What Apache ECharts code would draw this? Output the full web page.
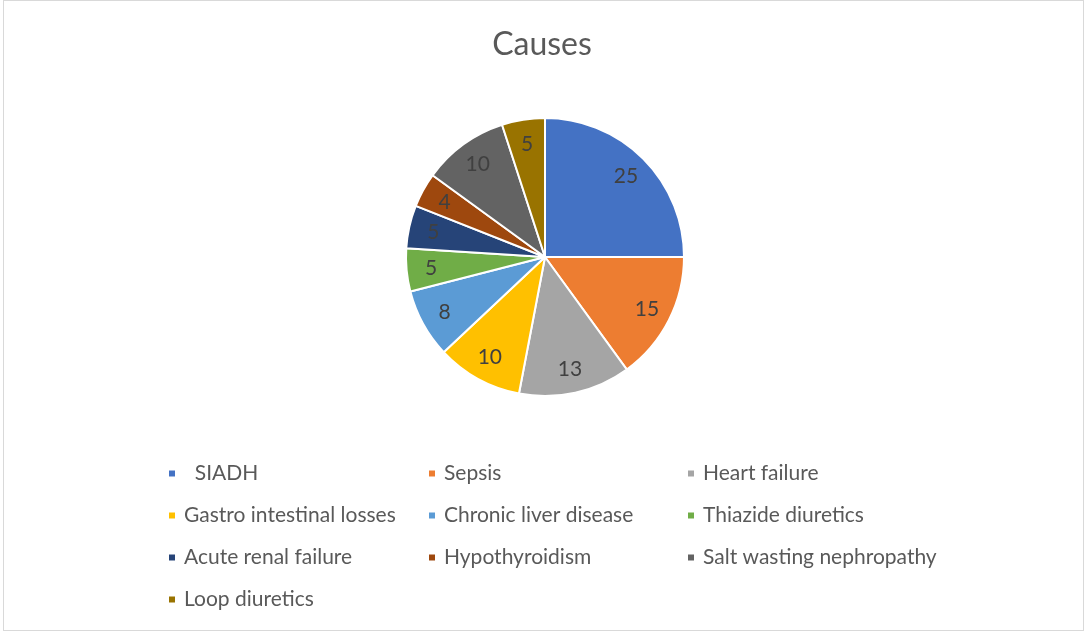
<!DOCTYPE html>
<html>
<head>
<meta charset="utf-8">
<script src="https://cdn.jsdelivr.net/npm/echarts@6/dist/echarts.min.js"></script>
<style>
  html, body { margin: 0; padding: 0; background: #fff; }
  #box { position: absolute; left: 3px; top: 0; width: 1079px; height: 629px; border: 1px solid #d9d9d9; }
  #chart { width: 1084px; height: 632px; }
</style>
</head>
<body>
<div id="box"></div>
<div id="chart"></div>
<script>
// 数据
var causes = ['  SIADH', 'Sepsis', 'Heart failure', 'Gastro intestinal losses', 'Chronic liver disease',
  'Thiazide diuretics', 'Acute renal failure', 'Hypothyroidism', 'Salt wasting nephropathy', 'Loop diuretics'];
var counts = [25, 15, 13, 10, 8, 5, 5, 4, 10, 5];
var colors = ['#4472C4', '#ED7D31', '#A5A5A5', '#FFC000', '#5B9BD5', '#70AD47', '#264478', '#9E480E', '#636363', '#997300'];

// 图例分三列
var col1 = [causes[0], causes[3], causes[6], causes[9]];
var col2 = [causes[1], causes[4], causes[7]];
var col3 = [causes[2], causes[5], causes[8]];

var pieData = causes.map(function (n, i) { return { name: n, value: counts[i] }; });

function legendCol(names, x) {
  return {
    orient: 'vertical',
    left: x,
    top: 463,
    padding: 0,
    itemWidth: 8,
    itemHeight: 8,
    itemGap: 21,
    icon: 'rect',
    data: names,
    textStyle: { fontFamily: 'Lato', fontSize: 21, lineHeight: 21, color: '#595959', padding: [0, 0, 0, 3] }
  };
}

var myChart = echarts.init(document.getElementById('chart'));
myChart.setOption({
  color: colors,
  animation: false,
  title: {
    text: 'Causes',
    left: 'center',
    top: 24,
    textStyle: { fontFamily: 'Lato', fontSize: 32, fontWeight: 'normal', color: '#595959' }
  },
  legend: [legendCol(col1, 167), legendCol(col2, 427), legendCol(col3, 686)],
  series: [
    {
      // 扇形
      type: 'pie',
      center: [545, 257],
      radius: [0, 139],
      startAngle: 90,
      clockwise: true,
      itemStyle: { borderColor: '#fff', borderWidth: 2 },
      label: { show: false },
      labelLine: { show: false },
      data: pieData
    },
    {
      // 只用来放数值标签（透明的环）
      type: 'pie',
      center: [545, 257],
      radius: [84, 139],
      startAngle: 90,
      clockwise: true,
      silent: true,
      itemStyle: { color: 'rgba(0,0,0,0)' },
      label: {
        show: true,
        position: 'inside',
        formatter: '{c}',
        fontFamily: 'Lato',
        fontSize: 21,
        color: '#404040'
      },
      labelLine: { show: false },
      data: pieData
    }
  ]
});
</script>
</body>
</html>
